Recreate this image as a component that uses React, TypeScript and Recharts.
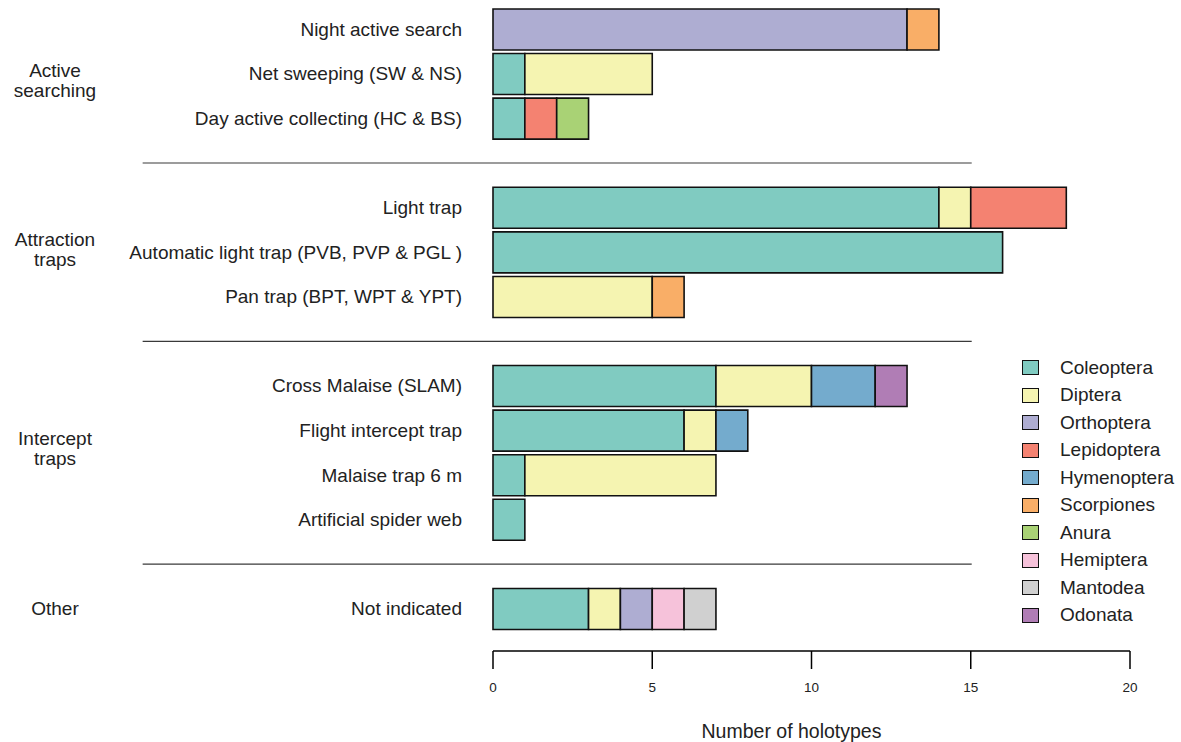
import React from 'react';
import { BarChart, Bar, XAxis, YAxis, Legend, ReferenceLine } from 'recharts';

// collecting methods, top to bottom
const methods = [
  'Night active search',
  'Net sweeping (SW & NS)',
  'Day active collecting (HC & BS)',
  'Light trap',
  'Automatic light trap (PVB, PVP & PGL )',
  'Pan trap (BPT, WPT & YPT)',
  'Cross Malaise (SLAM)',
  'Flight intercept trap',
  'Malaise trap 6 m',
  'Artificial spider web',
  'Not indicated',
];

const groupLabels = ['Active\nsearching', 'Attraction\ntraps', 'Intercept\ntraps', 'Other'];
const groupSizes = [3, 3, 4, 1];

const orders = [
  'Coleoptera', 'Diptera', 'Orthoptera', 'Lepidoptera', 'Hymenoptera',
  'Scorpiones', 'Anura', 'Hemiptera', 'Mantodea', 'Odonata',
];
const orderColors = [
  '#80cbc1', '#f5f4b1', '#aeadd2', '#f48271', '#74abcd',
  '#f9ae67', '#a9d275', '#f6c2da', '#d0d0d0', '#b07db5',
];

// holotype counts per method (same order as methods)
const coleoptera = [0, 1, 1, 14, 16, 0, 7, 6, 1, 1, 3];
const diptera = [0, 4, 0, 1, 0, 5, 3, 1, 6, 0, 1];
const orthoptera = [13, 0, 0, 0, 0, 0, 0, 0, 0, 0, 1];
const lepidoptera = [0, 0, 1, 3, 0, 0, 0, 0, 0, 0, 0];
const hymenoptera = [0, 0, 0, 0, 0, 0, 2, 1, 0, 0, 0];
const scorpiones = [1, 0, 0, 0, 0, 1, 0, 0, 0, 0, 0];
const anura = [0, 0, 1, 0, 0, 0, 0, 0, 0, 0, 0];
const hemiptera = [0, 0, 0, 0, 0, 0, 0, 0, 0, 0, 1];
const mantodea = [0, 0, 0, 0, 0, 0, 0, 0, 0, 0, 1];
const odonata = [0, 0, 0, 0, 0, 0, 1, 0, 0, 0, 0];

const xTicks = [0, 5, 10, 15, 20];

const seriesValues = [
  coleoptera, diptera, orthoptera, lepidoptera, hymenoptera,
  scorpiones, anura, hemiptera, mantodea, odonata,
];

// build rows, with a blank row between groups for the separator lines
const data: any[] = [];
const groupStarts: number[] = [];
let r = 0;
groupSizes.forEach((size, g) => {
  groupStarts.push(r);
  for (let i = 0; i < size; i++, r++) {
    const row: any = { method: methods[r] };
    orders.forEach((o, k) => {
      if (seriesValues[k][r] > 0) row[o] = seriesValues[k][r];
    });
    data.push(row);
  }
  if (g < groupSizes.length - 1) data.push({ method: `gap-${g + 1}` });
});

const W = 1181;
const H = 742;
const TOP = 7;
const X_AXIS_H = 91;
const PAD_BOTTOM = 20;
const ROW = (H - TOP - X_AXIS_H - PAD_BOTTOM) / data.length;
const GROUP_NUDGE = [7, -3, -4, 0];
const FONT = "'Liberation Sans', Arial, Helvetica, sans-serif";
const LABEL_SIZE = 19;

const MethodTick = (props: any) => {
  const { x, y, payload } = props;
  const name: string = payload.value;
  if (name.startsWith('gap')) return <g />;
  const idx = methods.indexOf(name);
  const g = groupStarts.indexOf(idx);
  let groupText = null;
  if (g >= 0) {
    const lines = groupLabels[g].split('\n');
    const cy = y + ((groupSizes[g] - 1) / 2) * ROW + GROUP_NUDGE[g];
    groupText = (
      <text x={55} textAnchor="middle" fontSize={LABEL_SIZE} fill="#222">
        {lines.map((l, i) => (
          <tspan key={l} x={55} y={cy + 6.5 - (lines.length - 1) * 10 + i * 20}>{l}</tspan>
        ))}
      </text>
    );
  }
  return (
    <g>
      <text x={x} y={y + 6.5} textAnchor="end" fontSize={LABEL_SIZE} fill="#222">{name}</text>
      {groupText}
    </g>
  );
};

const renderLegend = (props: any) => {
  const items = [...(props.payload || [])].sort(
    (a: any, b: any) => orders.indexOf(a.value) - orders.indexOf(b.value),
  );
  return (
    <div>
      {items.map((p: any) => (
        <div key={p.value} style={{ display: 'flex', alignItems: 'center', height: 27.5 }}>
          <span
            style={{
              display: 'inline-block',
              boxSizing: 'border-box',
              width: 17,
              height: 15,
              background: p.color,
              border: '1.6px solid #111',
            }}
          />
          <span style={{ marginLeft: 21, fontSize: LABEL_SIZE, color: '#222' }}>{p.value}</span>
        </div>
      ))}
    </div>
  );
};

export default function App() {
  return (
    <div style={{ position: 'absolute', left: 0, top: 0, width: W, height: H, background: '#fff', fontFamily: FONT }}>
      <BarChart
        width={W}
        height={H}
        data={data}
        layout="vertical"
        margin={{ top: TOP, right: 51, bottom: 0, left: 0 }}
      >
        <XAxis
          type="number"
          domain={[0, 20]}
          ticks={xTicks}
          height={X_AXIS_H}
          tickSize={18}
          tickMargin={13}
          axisLine={{ stroke: '#000', strokeWidth: 1.5 }}
          tickLine={{ stroke: '#000', strokeWidth: 1.5 }}
          tick={{ fontSize: 13.5, fill: '#222' }}
          label={{ value: 'Number of holotypes', position: 'insideBottom', offset: 4, dx: -20, fontSize: 19.5, fill: '#222' }}
        />
        <YAxis
          type="category"
          dataKey="method"
          width={493}
          tickSize={0}
          tickMargin={31}
          axisLine={false}
          tickLine={false}
          interval={0}
          padding={{ top: 0, bottom: PAD_BOTTOM }}
          tick={<MethodTick />}
        />
        {[1, 2, 3].map((g) => (
          <ReferenceLine
            key={g}
            segment={[{ x: -11, y: `gap-${g}` }, { x: 15.03, y: `gap-${g}` }]}
            stroke="#3a3a3a"
            strokeWidth={1.2}
            ifOverflow="visible"
          />
        ))}
        {orders.map((o, k) => (
          <Bar
            key={o}
            dataKey={o}
            name={o}
            stackId="a"
            fill={orderColors[k]}
            stroke="#111"
            strokeWidth={1.6}
            barSize={41}
            isAnimationActive={false}
          />
        ))}
        <Legend
          layout="vertical"
          align="center"
          verticalAlign="middle"
          width={160}
          content={renderLegend}
          wrapperStyle={{ left: 1022, top: 354, width: 160 }}
        />
      </BarChart>
    </div>
  );
}
